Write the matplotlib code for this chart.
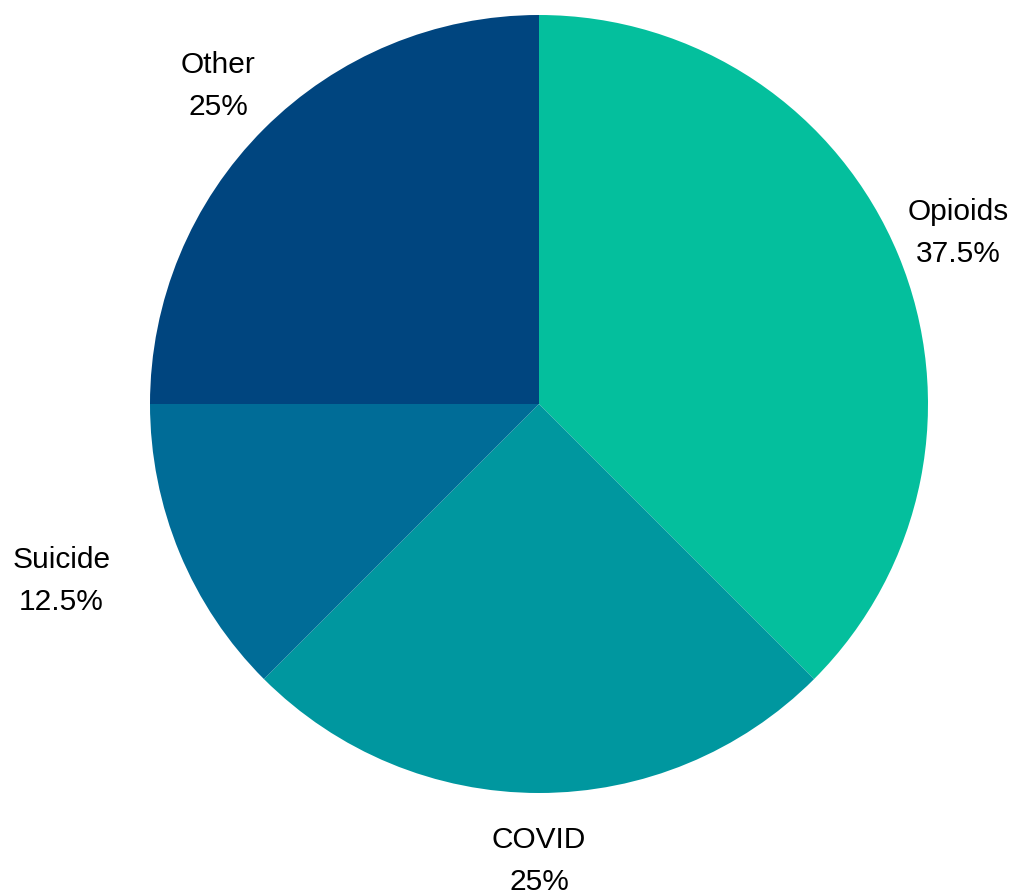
import matplotlib.pyplot as plt
import numpy as np

# datos del grafico
categorias = ['Opioids', 'COVID', 'Suicide', 'Other']
valores = [37.5, 25, 12.5, 25]
etiquetas_pct = ['37.5%', '25%', '12.5%', '25%']
colores = ['#04BF9D', '#00979F', '#006C97', '#00457F']

plt.rcParams['font.family'] = ['Liberation Sans', 'DejaVu Sans']

fig = plt.figure(figsize=(10.13, 8.9), dpi=100)
ax = fig.add_axes([0, 0, 1, 1])

wedges, _ = ax.pie(valores, colors=colores, startangle=90, counterclock=False,
                   radius=1.0, wedgeprops=dict(linewidth=0))

# etiquetas fuera del pastel
for i, w in enumerate(wedges):
    ang = np.deg2rad((w.theta1 + w.theta2) / 2)
    x = 1.167 * np.cos(ang)
    y = 1.167 * np.sin(ang)
    if categorias[i] == 'Suicide':
        x -= 0.15  # empujar fuera para que no choque con el borde
    ax.text(x, y - 0.008, f'{categorias[i]}\n{etiquetas_pct[i]}', ha='center', va='center',
            fontsize=21.5, color='#000000', linespacing=1.63)

# limites para que el centro quede en (539, 404) px con radio 389 px
escala = 389.0
ax.set_aspect('auto')
ax.set_xlim(-539 / escala, (1013 - 539) / escala)
ax.set_ylim(-(890 - 404) / escala, 404 / escala)
ax.axis('off')

plt.savefig('out.png', dpi=100)
plt.close()
